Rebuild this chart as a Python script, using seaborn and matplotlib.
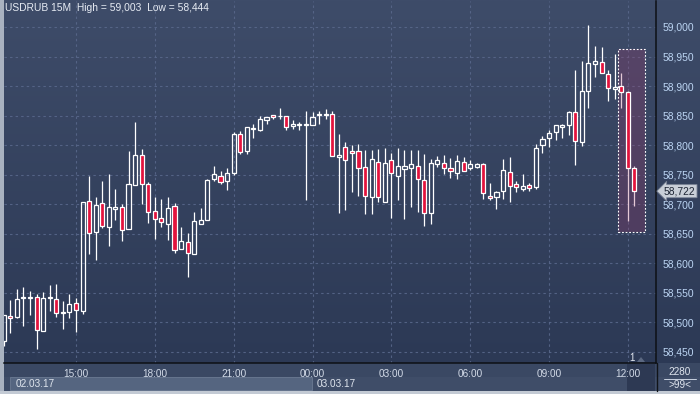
import numpy as np
import pandas as pd
import matplotlib
matplotlib.use("Agg")
import matplotlib.pyplot as plt
import seaborn as sns
from matplotlib.patches import Rectangle, Polygon
from matplotlib.colors import LinearSegmentedColormap
from matplotlib.transforms import blended_transform_factory

# ---------------- data (USDRUB, 15-minute candles 02.03.17 12:15 .. 03.03.17 12:15) -------------
opens = [58.469, 58.511, 58.509, 58.541, 58.541, 58.543, 58.486, 58.541, 58.540, 58.516,
         58.518, 58.533, 58.519, 58.706, 58.653, 58.702, 58.662, 58.692, 58.695, 58.658,
         58.733, 58.783, 58.734, 58.689, 58.677, 58.667, 58.697, 58.624, 58.636, 58.616,
         58.667, 58.673, 58.743, 58.748, 58.739, 58.753, 58.819, 58.790, 58.828, 58.826,
         58.843, 58.851, 58.849, 58.849, 58.832, 58.834, 58.834, 58.834, 58.851, 58.851,
         58.853, 58.780, 58.797, 58.790, 58.790, 58.763, 58.712, 58.772, 58.704, 58.775,
         58.748, 58.760, 58.761, 58.765, 58.741, 58.685, 58.768, 58.770, 58.761, 58.753,
         58.772, 58.761, 58.763, 58.768, 58.714, 58.712, 58.723, 58.755, 58.734, 58.726,
         58.733, 58.729, 58.800, 58.812, 58.822, 58.831, 58.834, 58.856, 58.805, 58.892,
         58.937, 58.941, 58.920, 58.895, 58.900, 58.890, 58.761]
highs = [58.513, 58.538, 58.557, 58.560, 58.553, 58.547, 58.552, 58.563, 58.565, 58.536,
         58.547, 58.541, 58.704, 58.748, 58.712, 58.739, 58.751, 58.726, 58.701, 58.790,
         58.839, 58.794, 58.738, 58.712, 58.709, 58.712, 58.702, 58.662, 58.651, 58.687,
         58.694, 58.743, 58.765, 58.756, 58.761, 58.822, 58.824, 58.831, 58.836, 58.849,
         58.848, 58.851, 58.863, 58.849, 58.843, 58.839, 58.858, 58.856, 58.858, 58.861,
         58.858, 58.819, 58.805, 58.800, 58.802, 58.792, 58.792, 58.794, 58.795, 58.787,
         58.795, 58.792, 58.792, 58.792, 58.785, 58.777, 58.782, 58.783, 58.778, 58.783,
         58.780, 58.775, 58.770, 58.770, 58.736, 58.723, 58.777, 58.780, 58.739, 58.751,
         58.736, 58.802, 58.816, 58.826, 58.834, 58.836, 58.858, 58.927, 58.942, 59.003,
         58.968, 58.966, 58.927, 58.954, 58.922, 58.892, 58.765]
lows = [58.460, 58.481, 58.508, 58.494, 58.513, 58.455, 58.486, 58.519, 58.509, 58.489,
        58.508, 58.484, 58.514, 58.616, 58.606, 58.660, 58.629, 58.673, 58.638, 58.658,
        58.733, 58.701, 58.668, 58.641, 58.662, 58.640, 58.618, 58.624, 58.577, 58.616,
        58.667, 58.673, 58.739, 58.734, 58.724, 58.750, 58.785, 58.785, 58.812, 58.824,
        58.836, 58.844, 58.844, 58.826, 58.827, 58.826, 58.707, 58.834, 58.836, 58.844,
        58.782, 58.685, 58.690, 58.721, 58.714, 58.684, 58.684, 58.704, 58.704, 58.677,
        58.707, 58.675, 58.695, 58.687, 58.663, 58.667, 58.763, 58.751, 58.745, 58.743,
        58.756, 58.758, 58.761, 58.709, 58.707, 58.692, 58.709, 58.704, 58.721, 58.723,
        58.723, 58.726, 58.787, 58.797, 58.809, 58.812, 58.817, 58.766, 58.799, 58.863,
        58.915, 58.922, 58.875, 58.878, 58.863, 58.672, 58.697]
closes = [58.513, 58.507, 58.540, 58.542, 58.542, 58.487, 58.541, 58.542, 58.516, 58.517,
          58.531, 58.521, 58.704, 58.651, 58.699, 58.663, 58.695, 58.695, 58.657, 58.734,
          58.783, 58.734, 58.687, 58.675, 58.670, 58.694, 58.623, 58.638, 58.618, 58.672,
          58.673, 58.741, 58.751, 58.738, 58.753, 58.819, 58.788, 58.831, 58.829, 58.844,
          58.848, 58.848, 58.850, 58.831, 58.836, 58.835, 58.835, 58.848, 58.852, 58.852,
          58.782, 58.783, 58.775, 58.787, 58.761, 58.714, 58.777, 58.712, 58.770, 58.753,
          58.765, 58.765, 58.768, 58.743, 58.685, 58.770, 58.775, 58.761, 58.756, 58.773,
          58.756, 58.768, 58.768, 58.719, 58.711, 58.721, 58.758, 58.731, 58.729, 58.731,
          58.728, 58.795, 58.810, 58.821, 58.834, 58.834, 58.856, 58.807, 58.892, 58.939,
          58.942, 58.922, 58.897, 58.898, 58.890, 58.761, 58.722]

time_labels = ["15:00", "18:00", "21:00", "00:00", "03:00", "06:00", "09:00", "12:00"]
time_label_candles = [11, 23, 35, 47, 59, 71, 83, 95]
price_ticks = [58.45, 58.50, 58.55, 58.60, 58.65, 58.70, 58.75, 58.80, 58.85, 58.90, 58.95, 59.00]
price_labels = ["58,450", "58,500", "58,550", "58,600", "58,650", "58,700",
                "58,750", "58,800", "58,850", "58,900", "58,950", "59,000"]
date_labels = ["02.03.17", "03.03.17"]
title_text = "USDRUB 15M  High = 59,003  Low = 58,444"
last_price = 58.722
last_price_label = "58,722"
highlight_candles = [94, 96]          # selected candles (0-based)
highlight_range = [58.653, 58.963]

df = pd.DataFrame({"open": opens, "high": highs, "low": lows, "close": closes})
df["idx"] = np.arange(len(df))
df["up"] = df["close"] >= df["open"]
df["top"] = df[["open", "close"]].max(axis=1)
df["bot"] = df[["open", "close"]].min(axis=1)

# ---------------- styling -------------
sns.set_theme(style="dark")
plt.rcParams["font.family"] = ["Liberation Sans", "DejaVu Sans"]

W, H = 700, 394
fig = plt.figure(figsize=(7, 3.94), dpi=100)

# background layer in pixel coordinates
bg = fig.add_axes([0, 0, 1, 1])
bg.set_xlim(0, W)
bg.set_ylim(H, 0)
bg.set_axis_off()
grad = np.linspace(0, 1, 256)[:, None]
cmap = LinearSegmentedColormap.from_list("bgc", ["#3e4c69", "#2c3955"])
bg.imshow(grad, extent=[0, W, 363, 0], cmap=cmap, aspect="auto", zorder=0)
bg.add_patch(Rectangle((0, 363), W, 31, fc="#3a4863", ec="none", zorder=1))
bg.add_patch(Rectangle((0, 377), W, 14, fc="#3f4d68", ec="none", zorder=1))
bg.add_patch(Rectangle((10, 377), 302, 13, fc="#556580", ec="#6b7a93", lw=0.6, zorder=2))
bg.add_patch(Rectangle((0, 390.5), W, 4, fc="#c3cad4", ec="none", zorder=2))
bg.add_patch(Rectangle((0, 0), 4, 391, fc="#a9b2c0", ec="none", zorder=2))
bg.add_patch(Rectangle((627, 364), 28, 26.5, fc="#2d3953", ec="none", zorder=2))
bg.text(16, 384, date_labels[0], color="#dfe5ee", fontsize=7.2, va="center", ha="left", zorder=3)
bg.text(317, 384, date_labels[1], color="#dfe5ee", fontsize=7.2, va="center", ha="left", zorder=3)
bg.text(5, 8, title_text, color="#e6ebf3", fontsize=7.4, va="center", ha="left", zorder=3)
# bottom-right corner box
bg.plot([664, 696], [379, 379], color="#c9d2e0", lw=0.7, zorder=3)
bg.text(680, 372, "2280", color="#dfe5ee", fontsize=7.2, ha="center", va="center", zorder=3)
bg.text(680, 385.5, ">99<", color="#dfe5ee", fontsize=7.2, ha="center", va="center", zorder=3)
bg.plot([656.5, 656.5], [363, 391], color="#111418", lw=1.0, zorder=3)
# marker "1"
bg.text(632, 358, "1", color="#e6ebf3", fontsize=7, ha="center", va="center", zorder=3)
bg.add_patch(Polygon([[637, 362], [645, 362], [641, 357]], closed=True, fc="#5b6881", ec="none", zorder=3))

# main chart axes
ax = fig.add_axes([4 / W, 1 - 363 / H, 652 / W, 362 / H])
ax.patch.set_alpha(0)
ax.set_xlim(0.046, 99.28)
ax.set_ylim(58.431, 59.044)

ax.set_xticks(time_label_candles)
ax.set_xticklabels(time_labels)
ax.set_yticks(price_ticks)
ax.set_yticklabels(price_labels)
ax.yaxis.tick_right()
ax.grid(True, color="#58678a", linestyle=(0, (2.2, 2.8)), linewidth=0.8, alpha=0.9)
ax.tick_params(axis="x", length=0, pad=4, labelsize=7.2, labelcolor="#d3dbe8")
ax.tick_params(axis="y", length=0, pad=4.5, labelsize=7.4, labelcolor="#bcd5f3")
for s in ["top", "left"]:
    ax.spines[s].set_visible(False)
for s in ["right", "bottom"]:
    ax.spines[s].set_visible(True)
    ax.spines[s].set_color("#0d1015")
    ax.spines[s].set_linewidth(1.1)

# wicks (outside the body)
ax.vlines(df["idx"], df["top"], df["high"], color="white", lw=0.9, zorder=3)
ax.vlines(df["idx"], df["low"], df["bot"], color="white", lw=0.9, zorder=3)

# highlighted selection: tinted fill above wicks, below bodies; dashed frame on top
x0 = highlight_candles[0] - 0.45
x1 = highlight_candles[1] + 1.6
ax.add_patch(Rectangle((x0, highlight_range[0]), x1 - x0, highlight_range[1] - highlight_range[0],
                       fc=(0.62, 0.22, 0.42, 0.27), ec="none", zorder=3.5))
ax.add_patch(Rectangle((x0, highlight_range[0]), x1 - x0, highlight_range[1] - highlight_range[0],
                       fc="none", ec="white", ls=(0, (1.6, 1.6)), lw=0.8, zorder=6))

# bodies
up = df[df["up"]]
dn = df[~df["up"]]
ax.bar(up["idx"], up["top"] - up["bot"], bottom=up["bot"], width=0.62,
       color="none", edgecolor="white", linewidth=0.9, zorder=4)
ax.bar(dn["idx"], dn["top"] - dn["bot"], bottom=dn["bot"], width=0.62,
       color="#e3133d", edgecolor="white", linewidth=0.9, zorder=4)

# last price tag
tr = blended_transform_factory(ax.transAxes, ax.transData)
ax.text(1.012, last_price, last_price_label, transform=tr, fontsize=7.4, color="#1c2433",
        ha="left", va="center", clip_on=False, zorder=10,
        bbox=dict(boxstyle="larrow,pad=0.15", fc="#c9cfd8", ec="#7d8698", lw=0.6))

fig.savefig("out.png", dpi=100)
